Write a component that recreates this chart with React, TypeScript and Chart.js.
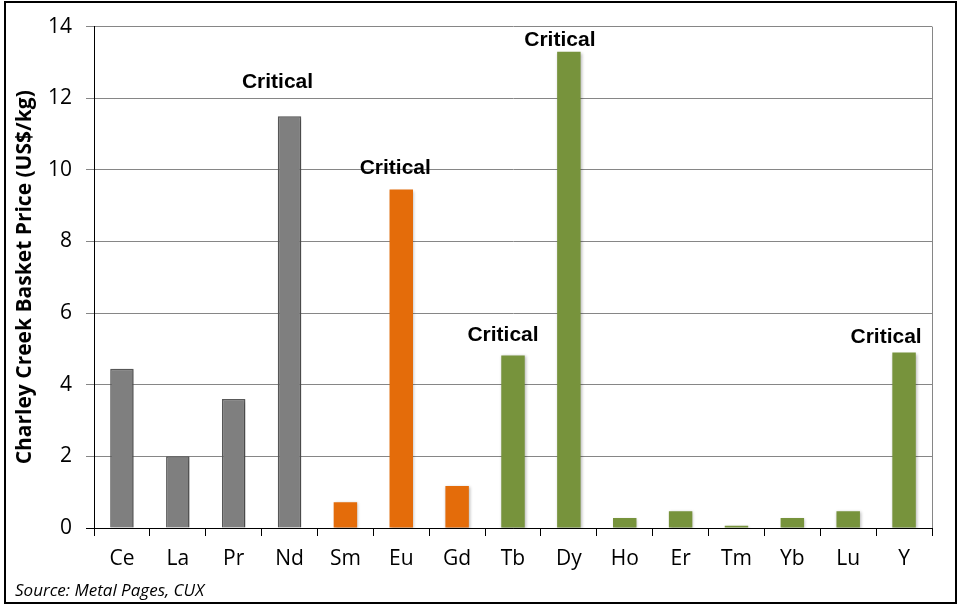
import { useEffect, useRef } from "react";
import { Chart, registerables } from "chart.js";

Chart.register(...registerables);

// Rare earth elements in the basket, in display order
const elements = ["Ce", "La", "Pr", "Nd", "Sm", "Eu", "Gd", "Tb", "Dy", "Ho", "Er", "Tm", "Yb", "Lu", "Y"];

// Contribution of each element to the basket price, US$/kg
const basketPrice = [4.45, 2.0, 3.6, 11.5, 0.72, 9.45, 1.17, 4.82, 13.3, 0.28, 0.47, 0.06, 0.28, 0.47, 4.9];

// Light / medium / heavy rare earth grouping
const elementGroup = [
  "light", "light", "light", "light",
  "medium", "medium", "medium",
  "heavy", "heavy", "heavy", "heavy", "heavy", "heavy", "heavy", "heavy",
];

// Elements flagged as critical
const criticalElements = ["Nd", "Eu", "Tb", "Dy", "Y"];

// Axis range
const yMin = 0;
const yMax = 14;
const yStep = 2;

const sourceNote = "Source: Metal Pages, CUX";
const yTitle = "Charley Creek Basket Price (US$/kg)";

const groupFill: Record<string, string> = {
  light: "#7f7f7f",
  medium: "#e46c0a",
  heavy: "#77933c",
};
const groupBorder: Record<string, string> = {
  light: "#5a5a5a",
  medium: "#e46c0a",
  heavy: "#77933c",
};

// Placement of the "Critical" tags relative to the top centre of their bar: [dx, gap above]
const criticalTagPlacement: Record<string, [number, number]> = {
  Nd: [-12, 28],
  Eu: [-6, 16],
  Tb: [-10, 14],
  Dy: [-9, 6],
  Y: [-18, 10],
};

const barShadow = {
  id: "barShadow",
  beforeDatasetsDraw(chart: any) {
    const ctx = chart.ctx;
    ctx.save();
    ctx.shadowColor = "rgba(0,0,0,0.28)";
    ctx.shadowBlur = 3;
    ctx.shadowOffsetX = 1;
    ctx.shadowOffsetY = 1;
  },
  afterDatasetsDraw(chart: any) {
    chart.ctx.restore();
  },
};

const decorations = {
  id: "decorations",
  afterDraw(chart: any) {
    const ctx = chart.ctx;
    const area = chart.chartArea;
    const meta = chart.getDatasetMeta(0);

    // right edge of the plot area
    ctx.save();
    ctx.strokeStyle = "#868686";
    ctx.lineWidth = 1;
    ctx.beginPath();
    ctx.moveTo(Math.round(area.right) + 0.5, area.top);
    ctx.lineTo(Math.round(area.right) + 0.5, area.bottom);
    ctx.stroke();

    // "Critical" tags
    ctx.fillStyle = "#000";
    ctx.font = "bold 21px 'Liberation Sans', Arial, sans-serif";
    ctx.textAlign = "center";
    ctx.textBaseline = "alphabetic";
    elements.forEach((el, i) => {
      if (!criticalElements.includes(el)) return;
      const bar = meta.data[i];
      const [dx, gap] = criticalTagPlacement[el] || [0, 10];
      ctx.fillText("Critical", bar.x + dx, bar.y - gap);
    });

    // source note
    ctx.font = "italic 17px 'Open Sans', sans-serif";
    ctx.textAlign = "left";
    ctx.fillText(sourceNote, 15, 596);

    // outer frame
    ctx.strokeStyle = "#000";
    ctx.lineWidth = 2;
    ctx.strokeRect(5, 2, 951, 601);
    ctx.restore();
  },
};

export default function App() {
  const canvasRef = useRef<HTMLCanvasElement | null>(null);

  useEffect(() => {
    const canvas = canvasRef.current;
    if (!canvas) return;

    const chart = new Chart(canvas, {
      type: "bar",
      data: {
        labels: elements,
        datasets: [
          {
            data: basketPrice,
            backgroundColor: elementGroup.map((g) => groupFill[g]),
            borderColor: elementGroup.map((g) => groupBorder[g]),
            borderWidth: elementGroup.map((g) => (g === "light" ? 1.5 : 0)),
            categoryPercentage: 1,
            barPercentage: 0.42,
          },
        ],
      },
      options: {
        responsive: false,
        animation: false,
        layout: { padding: { top: 26, right: 29, left: 0, bottom: 0 } },
        plugins: {
          legend: { display: false },
          tooltip: { enabled: false },
        },
        scales: {
          x: {
            grid: {
              display: true,
              drawOnChartArea: false,
              drawTicks: true,
              tickLength: 8,
              color: "#000",
              offset: true,
            },
            border: { display: true, color: "#000", width: 1 },
            ticks: {
              color: "#000",
              padding: 10,
              font: { family: "'Open Sans', sans-serif", size: 21 },
              maxRotation: 0,
            },
            afterFit(scale: any) {
              scale.height = 78;
            },
          },
          y: {
            min: yMin,
            max: yMax,
            ticks: {
              stepSize: yStep,
              color: "#000",
              padding: 14,
              font: { family: "'Open Sans', sans-serif", size: 21 },
            },
            grid: {
              color: (ctx: any) => (ctx.tick && ctx.tick.value === 0 ? "#000" : "#868686"),
              tickLength: 8,
              lineWidth: 1,
            },
            border: { display: true, color: "#000", width: 1 },
            title: {
              display: true,
              text: yTitle,
              color: "#000",
              padding: { top: 12, bottom: 0 },
              font: { family: "'Open Sans', sans-serif", size: 21, weight: "bold" },
            },
            afterFit(scale: any) {
              scale.width = 94;
            },
          },
        },
      },
      plugins: [barShadow, decorations],
    });

    return () => chart.destroy();
  }, []);

  return (
    <div style={{ position: "absolute", left: 0, top: 0, width: 961, height: 606, background: "#fff" }}>
      <canvas ref={canvasRef} width={961} height={606} />
    </div>
  );
}
